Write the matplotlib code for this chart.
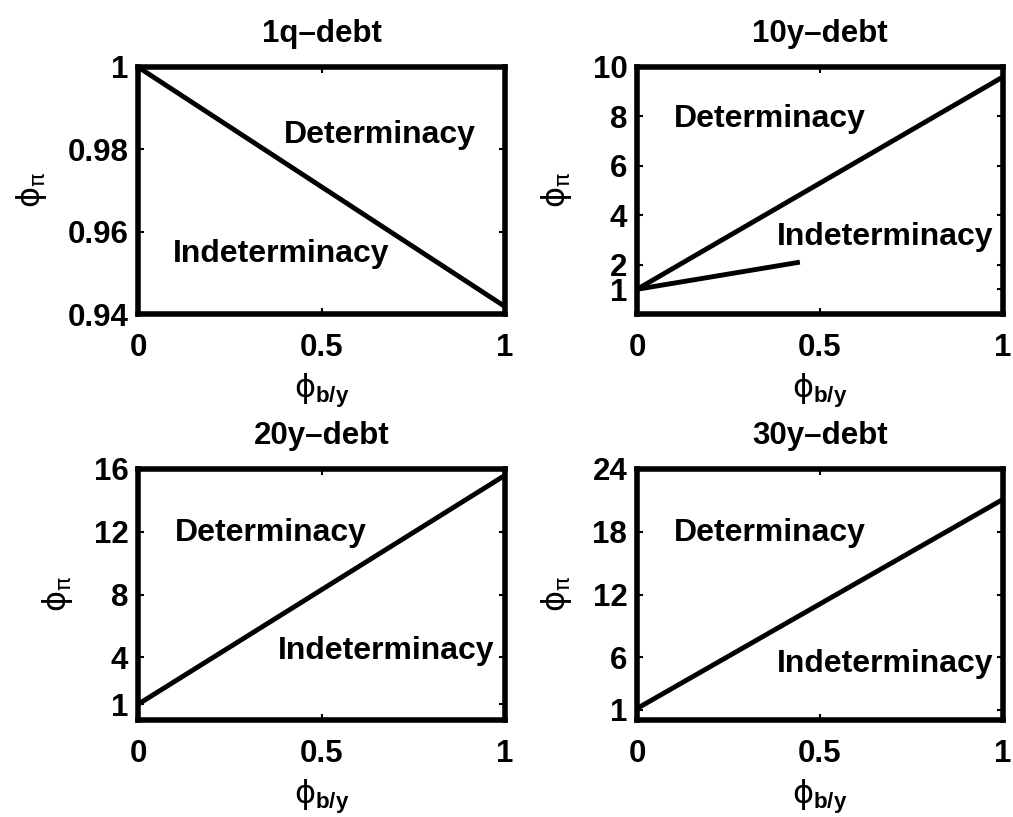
import matplotlib
matplotlib.use("Agg")
import matplotlib.pyplot as plt

plt.rcParams['font.family'] = ['Liberation Sans', 'DejaVu Sans']
plt.rcParams['mathtext.fontset'] = 'custom'
plt.rcParams['mathtext.rm'] = 'DejaVu Sans:normal'
plt.rcParams['mathtext.it'] = 'DejaVu Sans:normal'
plt.rcParams['mathtext.bf'] = 'Liberation Sans:bold'

# ---- data ----
titles = ["1q\u2013debt", "10y\u2013debt", "20y\u2013debt", "30y\u2013debt"]
line_x = [[0, 1], [0, 1], [0, 1], [0, 1]]
line_y = [[1.0, 0.9418], [1.0, 9.6], [1.0, 15.6], [1.1, 21.1]]
extra_x = [0, 0.445]          # second boundary in 10y panel
extra_y = [1.0, 2.1]
ylims = [(0.94, 1.0), (0, 10), (0, 16), (0, 24)]
yticks = [[0.94, 0.96, 0.98, 1.0], [1, 2, 4, 6, 8, 10], [1, 4, 8, 12, 16], [1, 6, 12, 18, 24]]
yticklabels = [["0.94", "0.96", "0.98", "1"], ["1", "2", "4", "6", "8", "10"],
               ["1", "4", "8", "12", "16"], ["1", "6", "12", "18", "24"]]
xticks = [0, 0.5, 1]
xticklabels = ["0", "0.5", "1"]
det_pos = [(0.66, 0.9835), (0.364, 7.9), (0.361, 11.9), (0.364, 17.9)]
ind_pos = [(0.39, 0.9545), (0.679, 3.13), (0.675, 4.4), (0.679, 5.4)]

W, H = 1013, 817
fig = plt.figure(figsize=(W / 100, H / 100), dpi=100)
boxes = [(138, 67, 505, 314), (637, 67, 1003, 314), (138, 469, 505, 720), (637, 469, 1003, 720)]

FS = 22.5
TFS = 23
for i, (l, t, r, b) in enumerate(boxes):
    ax = fig.add_axes([l / W, 1 - b / H, (r - l) / W, (b - t) / H])
    ax.plot(line_x[i], line_y[i], color='black', lw=3.5, solid_capstyle='butt')
    if i == 1:
        ax.plot(extra_x, extra_y, color='black', lw=3.5, solid_capstyle='butt')
    ax.set_xlim(0, 1)
    ax.set_ylim(*ylims[i])
    ax.set_xticks(xticks)
    ax.set_xticklabels(xticklabels, fontsize=FS, fontweight='bold')
    ax.set_yticks(yticks[i])
    ax.set_yticklabels(yticklabels[i], fontsize=FS, fontweight='bold')
    ax.tick_params(direction='in', length=4, width=1.5, top=True, right=True)
    ax.tick_params(axis='x', pad=14)
    ax.tick_params(axis='y', pad=7)
    for s in ax.spines.values():
        s.set_linewidth(4)
    ax.set_title(titles[i], fontsize=FS, fontweight='bold', pad=18)
    ax.text(*det_pos[i], "Determinacy", fontsize=TFS, fontweight='bold', ha='center', va='center')
    ax.text(*ind_pos[i], "Indeterminacy", fontsize=TFS, fontweight='bold', ha='center', va='center')
    ax.set_xlabel(r'$\phi_{\mathbf{b/y}}$', fontsize=23, labelpad=6)
    ax.set_ylabel(r'$\phi_{\pi}$', fontsize=23, labelpad=13)

fig.savefig("out.png", dpi=100)
